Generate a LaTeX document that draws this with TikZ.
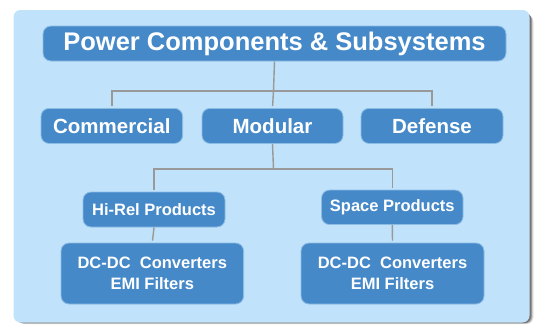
\documentclass[tikz,border=0pt]{standalone}
\usepackage{fontspec}
\setmainfont{Liberation Sans}
\definecolor{panelbg}{HTML}{C0E2FA}
\definecolor{boxfill}{HTML}{4689C9}
\definecolor{boxedge}{HTML}{8CBCE4}
\definecolor{linkgray}{HTML}{999999}
\begin{document}
\begin{tikzpicture}[x=1pt,y=-1pt,
  boxstyle/.style={draw=boxedge, line width=0.8pt, fill=boxfill, rounded corners=8pt,
    text=white, font=\bfseries, inner sep=0pt, align=center},
  link/.style={draw=linkgray, line width=1.4pt, shorten >=2pt}]
\useasboundingbox (0,0) rectangle (538,325);
% shadow
\foreach \o/\a in {5/0.10,4/0.15,3/0.2,2/0.25}{
  \fill[black, opacity=\a, rounded corners=7pt] (13.5+\o,10+\o) rectangle (529.5+\o*0.8,322.5+\o*0.3);
}
\fill[panelbg, rounded corners=7pt] (13.5,10) rectangle (529.5,322.5);
% nodes
\node[boxstyle, minimum width=463pt, minimum height=35pt, font=\bfseries\fontsize{25.5}{28}\selectfont] (top) at (274.5,43.5) {Power Components \& Subsystems};
\node[boxstyle, minimum width=141.6pt, minimum height=35pt, font=\bfseries\fontsize{20.5}{24}\selectfont] (com) at (111.8,125.9) {Commercial};
\node[boxstyle, minimum width=141pt, minimum height=35pt, font=\bfseries\fontsize{20.5}{24}\selectfont] (mod) at (272.5,125.9) {Modular};
\node[boxstyle, minimum width=142pt, minimum height=35pt, font=\bfseries\fontsize{20.5}{24}\selectfont] (def) at (432,125.9) {Defense};
\node[boxstyle, minimum width=142pt, minimum height=35pt, font=\bfseries\fontsize{16.5}{20}\selectfont] (hirel) at (154,209.5) {Hi-Rel Products};
\node[boxstyle, minimum width=141.5pt, minimum height=34.5pt, font=\bfseries\fontsize{16.5}{20}\selectfont] (space) at (392.3,207.3) {Space Products};
\node[boxstyle, minimum width=182.6pt, minimum height=61pt, font=\bfseries\fontsize{16.5}{21.5}\selectfont] (dcl) at (152.3,273.5) {DC-DC\ \ Converters\\EMI Filters};
\node[boxstyle, minimum width=183pt, minimum height=61pt, font=\bfseries\fontsize{16.5}{21.5}\selectfont] (dcr) at (392.5,273.5) {DC-DC\ \ Converters\\EMI Filters};
% connectors
\coordinate (j1) at (273.5,91);
\coordinate (j2) at (273.5,169);
\draw[link, shorten >=0pt] (top.south) -- (j1);
\draw[link] (j1) -| (com.north);
\draw[link] (j1) -| (def.north);
\draw[link] (j1) -- (mod.north);
\draw[link, shorten >=0pt] (mod.south) -- (j2);
\draw[link] (j2) -| (hirel.north);
\draw[link] (j2) -| (space.north);
\draw[link] (hirel.south) -- (dcl.north);
\draw[link] (space.south) -- (dcr.north);
\end{tikzpicture}
\end{document}
